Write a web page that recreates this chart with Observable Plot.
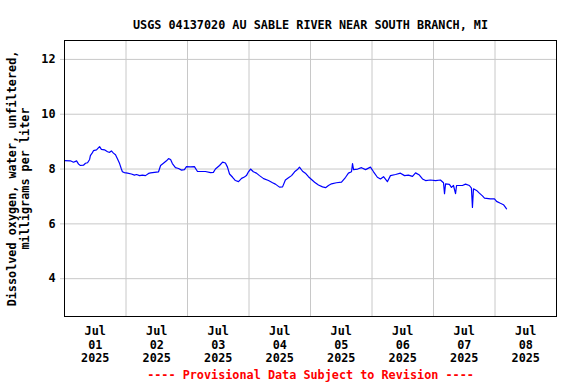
<!DOCTYPE html>
<html><head><meta charset="utf-8">
<script src="https://cdn.jsdelivr.net/npm/d3@7"></script>
<script src="https://cdn.jsdelivr.net/npm/@observablehq/plot@0.6"></script>
<style>body{margin:0;background:#fff}</style>
</head><body><div id="chart"></div>
<script>
const title = "USGS 04137020 AU SABLE RIVER NEAR SOUTH BRANCH, MI";
const yLabel = "Dissolved oxygen, water, unfiltered,\nmilligrams per liter";
const caption = "---- Provisional Data Subject to Revision ----";
const startDate = "2025-07-01T00:00:00Z";
const monthLabel = "Jul";
const yearLabel = "2025";
const dayLabels = ["01","02","03","04","05","06","07","08"];
const yTicks = [4, 6, 8, 10, 12];

// hours since Jul 01 2025 00:00, and dissolved oxygen (mg/L)
const hours = [0,2.3,3.5,4.3,4.7,5.5,6.2,7.4,8.2,9.0,9.8,10.1,10.9,11.3,12.5,13.3,13.7,14.4,15.6,16.8,17.6,18.3,19.1,19.9,20.7,21.5,22.2,22.6,23.4,24.6,26.1,27.3,28.1,29.3,30.4,31.6,32.8,33.6,35.1,36.7,37.5,38.6,39.8,40.6,41.4,42.1,43.3,44.5,45.7,46.8,47.6,49.2,50.7,51.9,55.0,57.0,58.1,58.9,60.5,61.7,62.8,63.6,64.4,65.6,66.7,67.9,69.1,70.2,71.0,71.8,72.6,73.7,74.9,76.1,77.7,79.6,81.2,82.3,83.9,85.1,86.2,87.4,88.6,89.8,90.9,91.7,92.9,94.0,95.2,96.4,97.6,99.1,100.7,101.9,103.0,104.2,106.1,108.1,109.7,110.8,112.0,112.4,112.8,114.4,115.9,117.5,119.4,120.6,122.1,123.3,124.5,126.0,127.2,129.2,131.1,132.7,134.2,135.8,137.0,138.5,139.7,140.9,142.8,144.8,146.7,147.9,148.3,148.7,150.2,151.0,151.8,152.6,153.0,155.3,156.5,158.0,158.8,159.2,159.6,160.8,161.9,163.1,163.9,166.2,167.8,168.6,170.1,171.3,172.1,172.5];
const values = [8.31,8.30,8.25,8.28,8.30,8.18,8.13,8.14,8.21,8.23,8.35,8.49,8.60,8.67,8.70,8.78,8.82,8.72,8.70,8.63,8.61,8.66,8.58,8.52,8.37,8.20,8.00,7.90,7.87,7.85,7.82,7.78,7.80,7.76,7.78,7.76,7.84,7.86,7.88,7.90,8.13,8.21,8.30,8.38,8.35,8.20,8.05,8.02,7.96,7.98,8.09,8.08,8.09,7.91,7.91,7.87,7.88,8.00,8.13,8.25,8.22,8.07,7.82,7.70,7.58,7.54,7.66,7.71,7.76,7.90,8.00,7.90,7.85,7.76,7.65,7.58,7.50,7.45,7.34,7.35,7.60,7.68,7.76,7.90,7.98,8.07,7.92,7.85,7.72,7.62,7.52,7.42,7.35,7.32,7.40,7.46,7.50,7.52,7.70,7.85,7.90,8.20,7.98,8.00,8.05,7.98,8.07,7.90,7.70,7.64,7.72,7.54,7.76,7.80,7.85,7.76,7.78,7.73,7.86,7.78,7.64,7.58,7.60,7.58,7.60,7.50,7.10,7.46,7.44,7.33,7.40,7.10,7.40,7.40,7.45,7.40,7.30,6.60,7.28,7.22,7.12,7.02,6.94,6.91,6.91,6.82,6.75,6.70,6.60,6.55];

const t0 = new Date(startDate).getTime();
const data = hours.map((h, i) => ({date: new Date(t0 + h * 3600e3), value: values[i]}));
const noonTicks = dayLabels.map(d => new Date(`2025-07-${d}T12:00:00Z`));
const midnightGrid = dayLabels.slice(1).map(d => new Date(`2025-07-${d}T00:00:00Z`));
const labelFor = new Map(noonTicks.map((d, i) => [+d, `${monthLabel}\n${dayLabels[i]}\n${yearLabel}`]));

const font = "'DejaVu Sans Mono', monospace";
const chart = Plot.plot({
  width: 576,
  height: 384,
  marginTop: 40,
  marginBottom: 68,
  marginLeft: 64,
  marginRight: 20,
  style: {fontFamily: font, fontSize: "11.8px", fontWeight: "bold", background: "#fff", color: "#000"},
  x: {type: "utc", domain: [new Date("2025-07-01T00:00:00Z"), new Date("2025-07-09T00:00:00Z")]},
  y: {domain: [2.62, 12.69]},
  marks: [
    Plot.gridX(midnightGrid, {stroke: "#c8c8c8", strokeOpacity: 1}),
    Plot.gridY(yTicks, {stroke: "#c8c8c8", strokeOpacity: 1}),
    Plot.line(data, {x: "date", y: "value", stroke: "#0000ff", strokeWidth: 1.2}),
    Plot.frame({stroke: "#000", strokeWidth: 1}),
    Plot.axisY(yTicks, {tickSize: 4, stroke: "#c8c8c8", tickPadding: 5, label: null, fontSize: "11.8px"}),
    Plot.axisX(noonTicks, {tickSize: 0, tickPadding: 9, lineHeight: 1.15, label: null, tickFormat: d => labelFor.get(+d)}),
    Plot.text([title], {frameAnchor: "top", dy: -20, text: d => d, fontSize: 11.8, fontWeight: "bold"}),
    Plot.text([yLabel], {frameAnchor: "left", textAnchor: "middle", lineAnchor: "middle", dx: -46, rotate: -90, text: d => d, lineHeight: 1.1, fontSize: 11.8, fontWeight: "bold"}),
    Plot.text([caption], {frameAnchor: "bottom", dy: 62, text: d => d, fill: "#ff0000", fontSize: 11.8, fontWeight: "bold"})
  ]
});
document.getElementById("chart").appendChild(chart);
</script>
</body></html>
